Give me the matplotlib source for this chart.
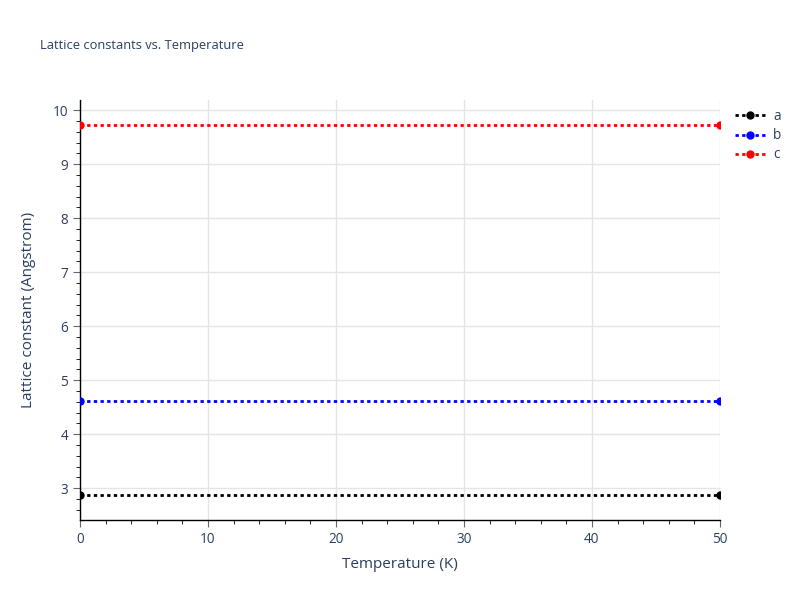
import matplotlib.pyplot as plt
from matplotlib.ticker import MultipleLocator
from matplotlib.lines import Line2D

plt.rcParams['font.family'] = ['Open Sans', 'DejaVu Sans']

# dados do grafico
temperatura = [0, 50]
const_a = [2.87, 2.87]
const_b = [4.61, 4.61]
const_c = [9.72, 9.72]
nomes = ['a', 'b', 'c']
cores = ['black', 'blue', 'red']

texto_cor = '#2a3f5f'

fig = plt.figure(figsize=(8, 6), dpi=100)
ax = fig.add_axes([0.1, 0.1333, 0.8, 0.7])

for valores, nome, cor in zip([const_a, const_b, const_c], nomes, cores):
    ax.plot(temperatura, valores, linestyle=(0, (1.2, 1.2)), linewidth=2,
            color=cor, marker='o', markersize=5, label=nome, clip_on=True, zorder=3)

ax.set_xlim(0, 50)
ax.set_ylim(2.41, 10.19)
ax.xaxis.set_major_locator(MultipleLocator(10))
ax.xaxis.set_minor_locator(MultipleLocator(2))
ax.yaxis.set_major_locator(MultipleLocator(1))
ax.yaxis.set_minor_locator(MultipleLocator(0.2))

ax.grid(True, which='major', color='#e5e5e5', linewidth=1)
ax.set_axisbelow(True)
for lado in ['top', 'right']:
    ax.spines[lado].set_visible(False)
for lado in ['left', 'bottom']:
    ax.spines[lado].set_color('black')
    ax.spines[lado].set_linewidth(1)

ax.tick_params(which='major', direction='out', length=5, color='#666666',
               labelsize=9.8, labelcolor=texto_cor)
ax.tick_params(which='minor', direction='out', length=3, color='black')

ax.set_xlabel('Temperature (K)', fontsize=11, color=texto_cor, labelpad=7)
ax.set_ylabel('Lattice constant (Angstrom)', fontsize=11, color=texto_cor, labelpad=12)

fig.text(0.05, 0.925, 'Lattice constants vs. Temperature', fontsize=9.3, color=texto_cor,
         va='center', ha='left')

# legenda manual
handles = [Line2D([0], [0], color=c, linestyle=(0, (1.2, 1.2)), linewidth=2,
                  marker='o', markersize=5) for c in cores]
fig.legend(handles, nomes, loc='upper left', bbox_to_anchor=(0.912, 0.827),
           frameon=False, fontsize=9.8, labelcolor=texto_cor, handlelength=2.2,
           handletextpad=0.6, labelspacing=0.3, borderaxespad=0)

plt.savefig('out.png', dpi=100)
plt.close()
